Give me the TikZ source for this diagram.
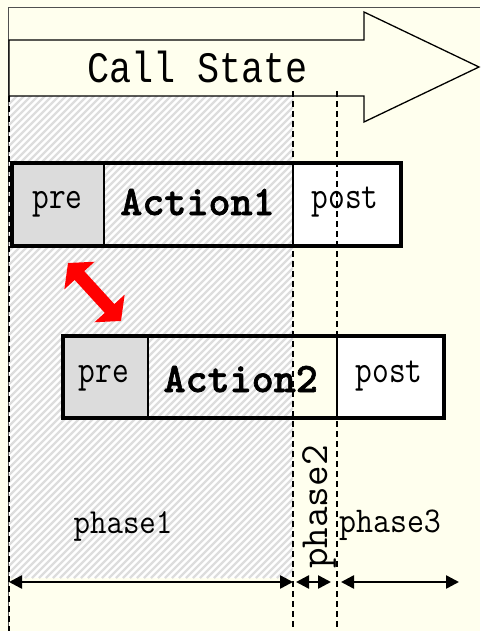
\documentclass[tikz,border=0pt]{standalone}
\usepackage{fontspec}
\usepackage{graphicx}
\newfontfamily\callfont{Liberation Mono}
\newfontfamily\actfont{lmmonolt10-bold.otf}[FakeBold=1.5]
\usetikzlibrary{arrows.meta}
\definecolor{bgy}{HTML}{FFFFEE}
\definecolor{pregray}{HTML}{DCDCDC}
\definecolor{hatchg}{HTML}{DDDDDD}
\definecolor{framec}{HTML}{505050}
\newcommand\mystretch[2]{\scalebox{1}[#1]{#2}}
\begin{document}
\begin{tikzpicture}[x=1pt,y=-1pt,
  lbl/.style={inner sep=0pt, anchor=base, font=\ttfamily\fontsize{32.5}{34}\selectfont},
  phl/.style={inner sep=0pt, anchor=base, font=\ttfamily\fontsize{32}{34}\selectfont},
  actlbl/.style={inner sep=0pt, anchor=base, font=\actfont\fontsize{42}{44}\selectfont},
  calllbl/.style={inner sep=0pt, anchor=base, font=\callfont\fontsize{36.8}{40}\selectfont},
  boxout/.style={draw=black, line width=4pt},
  divider/.style={draw=black, line width=2pt},
  guide/.style={draw=black, line width=1.1pt, dash pattern=on 6pt off 4pt},
  spanarrow/.style={draw=black, line width=2.5pt, {Triangle[length=13pt,width=13pt]}-{Triangle[length=13pt,width=13pt]}},
  bigred/.style={draw=red, line width=13pt, {Triangle[length=17pt,width=40pt]}-{Triangle[length=17pt,width=40pt]}},
]
\useasboundingbox (0,0) rectangle (480,631);
\fill[bgy] (0,0) rectangle (480,631);
% frame
\draw[framec, line width=1pt] (8,631) -- (8,8) -- (480,8);
% hatched zone
\begin{scope}
  \clip (9,96) rectangle (293,578);
  \fill[white] (9,96) rectangle (293,578);
  \foreach \i in {0,...,112} {
    \draw[hatchg, line width=2.2pt] (\i*7-500,578) -- ++(510,-510);
  }
\end{scope}
% Call State arrow
\draw[line width=1.3pt, fill=bgy] (9,40) -- (364,40) -- (364,12) -- (479,67) -- (364,122) -- (364,96) -- (9,96) -- cycle;
\node[calllbl] (callt) at (197.5,83) {\mystretch{1.18}{Call State}};
% Action1 box
\fill[pregray] (12,163) rectangle (104,246);
\fill[white] (293,163) rectangle (401,246);
\draw[divider] (104,163) -- (104,246);
\draw[divider] (293,163) -- (293,246);
\draw[boxout] (12,163) rectangle (401,246);
% Action2 box
\fill[pregray] (63,336) rectangle (148,418);
\fill[white] (337,336) rectangle (444,418);
\draw[divider] (148,336) -- (148,418);
\draw[divider] (337,336) -- (337,418);
\draw[boxout] (63,336) rectangle (444,418);
% guides
\draw[guide] (9,96) -- (9,631);
\draw[guide] (293,91) -- (293,631);
\draw[guide] (337,91) -- (337,631);
% labels
\node[lbl] (pre1) at (57.5,208) {\mystretch{1.2}{pre}};
\node[actlbl] (act1) at (197.5,215) {Action1};
\node[lbl] (post1) at (345,208) {\mystretch{1.2}{post}};
\node[lbl] (pre2) at (104,382) {\mystretch{1.2}{pre}};
\node[actlbl] (act2) at (240.7,392) {Action2};
\node[lbl] (post2) at (389,382) {\mystretch{1.2}{post}};
\node[phl] (ph1) at (123,533) {\mystretch{1.1}{phase1}};
\node[phl, font=\ttfamily\fontsize{33}{35}\selectfont] (ph3) at (390,532) {\mystretch{1.1}{phase3}};
\node[inner sep=0pt, anchor=base, rotate=90, font=\ttfamily\fontsize{40}{42}\selectfont] (ph2) at (327,507) {phase2};
% red double arrow
\coordinate (ra) at (68,263);
\coordinate (rb) at (121,321);
\draw[bigred] (ra) -- (rb);
% phase spans
\coordinate (p1a) at (9,582);
\coordinate (p1b) at (293,582);
\coordinate (p2a) at (296,582);
\coordinate (p2b) at (331,582);
\coordinate (p3a) at (341,582);
\coordinate (p3b) at (459,582);
\draw[spanarrow] (p1a) -- (p1b);
\draw[spanarrow] (p2a) -- (p2b);
\draw[spanarrow] (p3a) -- (p3b);
\end{tikzpicture}
\end{document}
